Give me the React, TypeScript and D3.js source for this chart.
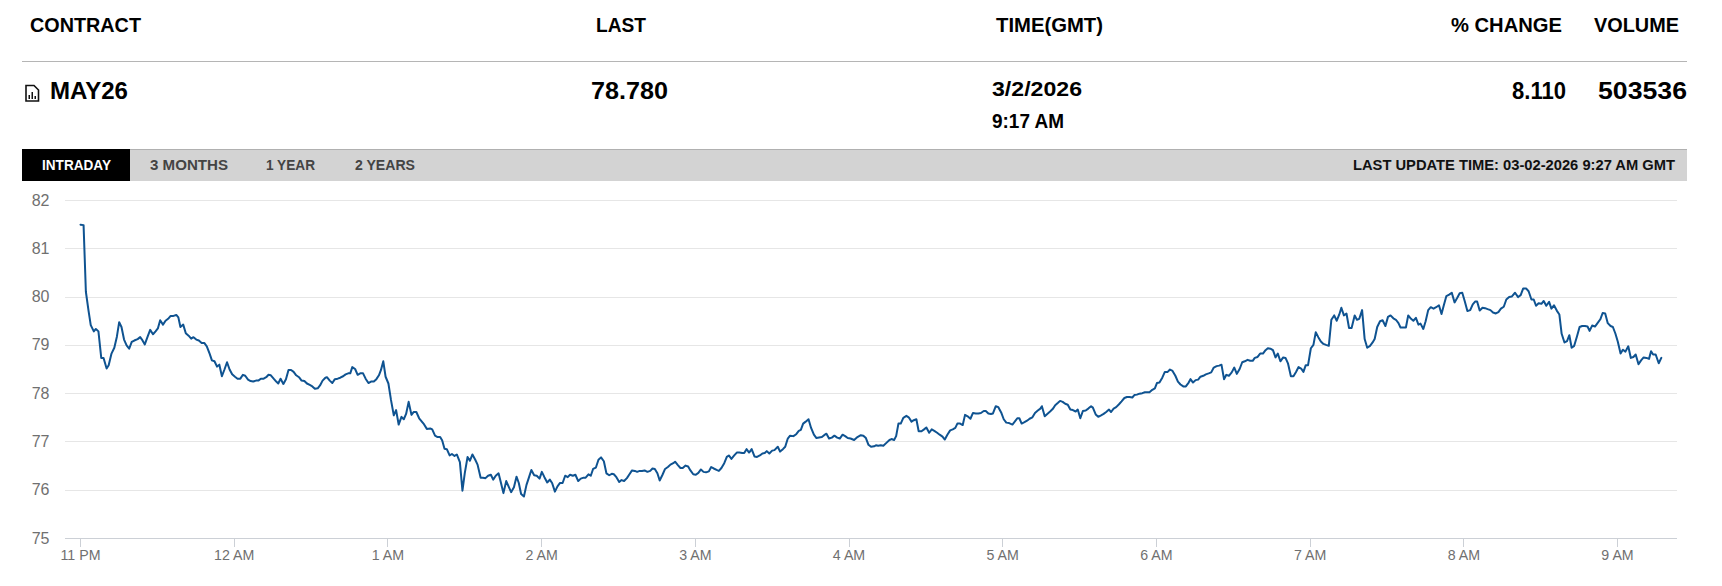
import React from "react";
import * as d3 from "d3";

const yTickValues = [75, 76, 77, 78, 79, 80, 81, 82];
const xTickMinutes = [0, 60, 120, 180, 240, 300, 360, 420, 480, 540, 600];
const xTickLabels = ["11 PM", "12 AM", "1 AM", "2 AM", "3 AM", "4 AM", "5 AM", "6 AM", "7 AM", "8 AM", "9 AM"];
const tabs = ["INTRADAY", "3 MONTHS", "1 YEAR", "2 YEARS"];

// minutes after 11 PM
const minutes = [
0,1.2,2.1,3.1,4,5.2,6,7,8.1,9,10.2,11,12.1,13.2,14.2,15.1,16,17,18,19,20,21,22.3,23.3,24,25.1,26.2,27.2,28.3,29.3,30.2,31.1,32.2,33.2,34.2,35.2,36.3,37.4,38.2,39,40.1,41.1,42.2,43.2,44.1,45.2,46.2,47.3,48.3,49.3,50.4,51.3,52.3,53.3,54.2,55.2,56.2,57.2,58.2,59.2,
60.3,61.3,62.4,63.4,64.3,65.4,66.4,67.4,68.5,69.4,70.4,71.5,72.5,73.4,74.3,75.4,76.4,77.2,78.1,79.2,80.2,81.2,82.2,83.2,84.2,85.3,86.3,87.4,88.4,89.5,90.5,91.5,92.6,93.5,94.5,95.6,96.2,97.3,98.3,99.3,100.4,101.4,102.5,103.5,104.5,105.3,106.1,107.2,108.2,109.2,110.3,111.3,112.4,113.4,114.5,115.5,116.5,117.3,118.2,119.1,
120.2,121.2,122.3,123.2,124.2,125.3,126.2,127.1,128.1,129.2,130.1,131.1,132.2,133.9,135.2,136.5,137.3,138.4,139.4,140.4,141.2,142.1,143,144.1,145,146,146.9,148.1,149.1,150,151.1,152,153,154.1,155,156.2,157.1,158.1,159.1,160.2,161.1,162.1,163.2,164.1,165.1,166.2,167.1,168.1,169.2,170.2,171.1,172,173.1,174.1,175.1,176,177.1,178.1,179.2,
180.1,181.1,182.2,183.2,184.1,185.2,186.2,187.2,188.2,189.2,190.2,191.1,192.2,193.2,194.3,195.3,196.4,197.2,198.3,199.2,200.1,201.2,202.2,203.2,204.3,205.3,206.4,207.4,208.2,209.2,210.3,211.2,212.2,213.3,214.3,215.3,216.4,217.3,218.3,219.2,220.2,221.3,222.4,223.3,224.2,225.2,226.1,227.2,228.2,229.3,230.3,231.4,232.1,233.2,234.2,235.1,236.2,237.2,238.1,239.2,
240.2,241.2,242.2,243.2,244.2,245.3,246.2,247.2,248.3,249.2,250.2,251.3,252.3,253.1,254.1,255.2,256.2,257.2,258.3,259.1,260,261,262,263.1,264.1,265.2,266.2,267.1,267.9,268.9,270,270.9,272.2,273.1,274.2,275.1,276.1,277,278.3,279.4,280.4,281.2,282.1,283.1,284.2,285.2,286.3,287.3,288.3,289.4,290.3,291.2,292.2,293.3,294.3,295.4,
296.4,297.5,298.5,299.5,300.6,302,303.3,304.6,305.6,306.6,307.6,308.6,309.8,310.5,311.4,312.4,313.4,314.6,315.8,316.6,317.6,318.4,319.3,320.2,321.2,322.4,323.3,324.4,325.3,326.3,327.2,328.3,329.3,330.2,331.3,332.3,333.3,334.4,335.4,336.5,337.4,338.4,339.5,340.5,341.5,342.3,343.4,344.4,345.3,346.3,347.4,348.4,349.5,350.5,351.5,352.6,353.4,354.4,355.4,356.2,
357.3,358.3,359.4,360.4,361.4,362.5,363.8,364.7,365.7,366.5,367.4,368.5,369.5,370.5,371.6,372.6,373.7,374.7,375.3,376.4,377.4,378.5,379.5,380.5,381.6,382.4,383.4,384.4,385.4,386.4,387.4,388.5,389.3,390.3,391.3,392.4,393.4,394.5,395.2,396.3,397.3,398.4,399.4,400.4,401.5,402.3,403.3,404.3,405.4,406.4,407.5,408.5,409.5,410.6,411.4,412.4,413.4,414.5,415.5,416.6,
417.3,418.4,419.4,420.2,421.2,422.3,423.3,424.4,425.3,426.3,427.4,428.4,429.4,430.5,431.5,432.6,433.3,434.3,435.3,436.3,437.2,438.3,439.3,440.4,441.4,442.4,443.5,444.5,445.4,
446.4,447.3,448.3,449.4,450.4,451.4,452.5,453.5,454.5,455.6,456.6,457.6,458.4,459.5,460.5,461.6,462.6,463.5,464.5,465.5,466.5,467.4,468.4,469.5,470.4,471.4,472.5,473.5,474.5,475.5,476.5,477.4,478.3,479.2,
480.3,481.3,482.2,483.2,484.2,485.2,486.2,487.3,488.3,489.4,490.4,491.4,492.2,493.2,494.2,495.2,496.2,497.4,498.3,499.2,500.3,501.3,502.3,503.4,504.4,505.2,506.2,507.3,508.3,509.4,510.4,511.4,512.5,513.5,514.5,515.3,516.4,517.4,518.3,519.4,520.3,521.3,522.3,523.1,524.2,525.1,526.1,527.1,528.2,529.2,530.3,531.3,532.2,533.2,534.3,535.3,536.4,537.4,538.4,539.4,
540.4,541.4,542.5,543.5,544.5,545.2,546.2,547.3,548.3,549.3,550.4,551.4,552.5,553.5,554.5,555.6,556.6,557.7,558.7,560,561.2,562.2,563.2,564.3,565.3,566.4,567.3,568.2,569.2,570.3,571.2,572.2,573.3,574.2,575.2,576.3,577.3,578.2,579.3,580.3,581.2,582.1,583.1,584.2,585.2,586.2,587.3,588.3,589.1,590.1,591.2,592.2,593.3,594.2,595.2,596.2,597.3,598.2,599.2,
600.1,601.2,602.1,603.1,604.2,605.2,606.2,607.1,608.2,609.2,610.2,611.3,612.3,613.1,613.9,614.9,616.1,617.1
];

const prices = [
81.5,81.49,80.11,79.73,79.42,79.29,79.34,79.29,78.74,78.74,78.52,78.59,78.83,78.95,79.18,79.48,79.38,79.12,79,78.93,79.07,79.1,79.13,79.17,79.12,79.02,79.18,79.32,79.23,79.29,79.35,79.52,79.43,79.51,79.55,79.61,79.61,79.63,79.58,79.38,79.43,79.25,79.2,79.14,79.17,79.12,79.1,79.05,79.05,78.98,78.83,78.69,78.67,78.56,78.6,78.36,78.5,78.65,78.5,78.4,
78.35,78.31,78.31,78.39,78.37,78.29,78.26,78.25,78.27,78.27,78.31,78.31,78.34,78.39,78.38,78.31,78.25,78.21,78.31,78.2,78.3,78.49,78.49,78.45,78.38,78.34,78.27,78.26,78.21,78.18,78.15,78.1,78.11,78.17,78.27,78.33,78.34,78.27,78.22,78.3,78.31,78.33,78.36,78.4,78.42,78.42,78.55,78.51,78.39,78.42,78.42,78.31,78.22,78.25,78.25,78.3,78.38,78.49,78.67,78.35,
78.21,77.87,77.55,77.66,77.36,77.52,77.47,77.58,77.83,77.56,77.62,77.62,77.49,77.38,77.27,77.28,77.26,77.13,77.1,77.1,77.03,76.86,76.85,76.72,76.75,76.71,76.74,76.58,75.99,76.35,76.69,76.61,76.74,76.63,76.53,76.26,76.26,76.25,76.3,76.32,76.22,76.3,76.35,76.16,75.94,76.19,76.08,75.96,76.06,76.28,76.15,75.92,75.87,76.11,76.27,76.42,76.31,76.3,76.24,
76.38,76.27,76.16,76.22,76.15,75.97,76.08,76.15,76.15,76.3,76.27,76.32,76.3,76.32,76.19,76.24,76.26,76.26,76.33,76.3,76.44,76.47,76.63,76.68,76.6,76.35,76.31,76.34,76.33,76.27,76.17,76.21,76.19,76.25,76.33,76.41,76.4,76.38,76.4,76.4,76.41,76.38,76.4,76.45,76.44,76.35,76.2,76.32,76.44,76.48,76.53,76.56,76.59,76.52,76.46,76.46,76.51,76.49,76.41,76.33,
76.32,76.36,76.43,76.38,76.37,76.39,76.48,76.45,76.42,76.4,76.46,76.56,76.69,76.72,76.65,76.72,76.78,76.78,76.77,76.77,76.85,76.78,76.85,76.7,76.69,76.72,76.76,76.77,76.81,76.76,76.82,76.83,76.9,76.8,76.85,76.9,77.07,77.13,77.12,77.16,77.23,77.25,77.38,77.42,77.47,77.29,77.15,77.08,77.09,77.1,77.14,77.17,77.07,77.09,77.13,77.09,
77.07,77.15,77.12,77.08,77.07,77.04,77.1,77.14,77.13,77.08,76.94,76.9,76.91,76.93,76.92,76.93,76.92,76.98,77.04,77.06,77.04,77.12,77.38,77.38,77.5,77.54,77.51,77.42,77.45,77.47,77.22,77.22,77.26,77.3,77.19,77.26,77.23,77.19,77.15,77.11,77.05,77.15,77.24,77.26,77.29,77.38,77.38,77.35,77.56,77.53,77.48,77.6,77.59,77.59,77.6,77.64,77.64,77.59,77.58,77.59,
77.74,77.72,77.61,77.47,77.4,77.39,77.36,77.42,77.49,77.49,77.38,77.41,77.44,77.48,77.51,77.6,77.65,77.69,77.74,77.53,77.58,77.63,77.68,77.76,77.81,77.85,77.83,77.79,77.77,77.67,77.66,77.63,77.67,77.49,77.64,77.65,77.69,77.74,77.71,77.57,77.52,77.55,77.58,77.62,77.67,77.62,77.69,77.72,77.78,77.84,77.91,77.93,77.93,77.92,77.97,77.98,78,78.01,78.03,78.03,
78.03,78.08,78.11,78.22,78.23,78.33,78.45,78.45,78.5,78.47,78.37,78.25,78.19,78.15,78.15,78.23,78.3,78.23,78.28,78.29,78.35,78.37,78.4,78.42,78.44,78.54,78.57,78.58,78.6,
78.3,78.39,78.37,78.44,78.54,78.41,78.51,78.65,78.67,78.7,78.68,78.68,78.74,78.76,78.83,78.83,78.9,78.94,78.93,78.9,78.75,78.83,78.67,78.75,78.74,78.62,78.36,78.36,78.45,78.55,78.52,78.45,78.59,78.59,
78.94,79.01,79.27,79.17,79.08,79.03,79.01,78.99,79.53,79.62,79.51,79.64,79.78,79.62,79.66,79.36,79.36,79.62,79.53,79.55,79.73,79.13,78.95,78.99,79.06,79.13,79.38,79.5,79.52,79.4,79.59,79.62,79.56,79.53,79.46,79.37,79.37,79.37,79.62,79.55,79.51,79.57,79.43,79.45,79.34,79.5,79.73,79.79,79.76,79.79,79.83,79.65,79.83,80.02,80.05,80.09,79.89,79.98,80.08,80.09,
79.91,79.71,79.73,79.85,79.91,79.91,79.72,79.78,79.77,79.75,79.73,79.68,79.66,79.69,79.76,79.8,79.95,80,80.01,80.09,80,80.04,80.18,80.18,80.12,79.95,79.95,79.82,79.87,79.86,79.92,79.82,79.9,79.76,79.83,79.72,79.64,79.24,79.06,79.09,79.21,78.95,78.99,79.19,79.38,79.4,79.4,79.39,79.3,79.41,79.39,79.46,79.54,79.67,79.66,79.46,79.4,79.38,79.24,
79.08,78.83,78.91,78.87,78.98,78.74,78.76,78.81,78.61,78.69,78.75,78.74,78.72,78.88,78.81,78.81,78.63,78.74
];

const W = 1722;
const H = 586;
const x = d3.scaleLinear().domain([0, 600]).range([80.5, 1617.5]);
const y = d3.scaleLinear().domain([75, 82]).range([538.5, 200.5]);
const series = minutes.slice(0, prices.length).map((m, i) => [m, prices[i]] as [number, number]);
const linePath = d3.line<[number, number]>().x(d => x(d[0])).y(d => y(d[1]))(series) || "";

const FONT = "'Liberation Sans', Arial, sans-serif";
const tabX = [42, 150, 266, 355];
const tabW = [69, 78, 49, 60];
const snap = (v: number) => Math.round(v - 0.5) + 0.5;

function T(p: { x: number; y: number; w: number; size: number; fill?: string; children: string }) {
  return (
    <text x={p.x} y={p.y} fontSize={p.size} fontWeight={700} fill={p.fill || "#000"} textLength={p.w} lengthAdjust="spacingAndGlyphs">
      {p.children}
    </text>
  );
}

export default function App() {
  return (
    <svg width={W} height={H} viewBox={`0 0 ${W} ${H}`} style={{ position: "fixed", left: 0, top: 0, display: "block", background: "#fff" }} fontFamily={FONT}>
      <T x={30} y={32} w={111} size={19.5}>CONTRACT</T>
      <T x={596} y={32} w={50} size={19.5}>LAST</T>
      <T x={996} y={32} w={107} size={19.5}>TIME(GMT)</T>
      <T x={1451} y={32} w={111} size={19.5}>% CHANGE</T>
      <T x={1594} y={32} w={85} size={19.5}>VOLUME</T>
      <line x1={22} x2={1687} y1={61.5} y2={61.5} stroke="#b5b5b5" strokeWidth={1} />

      <g fill="none" stroke="#111" strokeWidth={1.6}>
        <path d="M26 85.5 h8 l4.5 4.5 v11 h-12.5 z" />
      </g>
      <g fill="#111">
        <rect x={28.5} y={95} width={1.5} height={4} />
        <rect x={31.5} y={92} width={1.5} height={7} />
        <rect x={34.5} y={96} width={1.5} height={3} />
      </g>
      <T x={50} y={99} w={78} size={23}>MAY26</T>
      <T x={591} y={99} w={77} size={23}>78.780</T>
      <T x={1512} y={99} w={54} size={23}>8.110</T>
      <T x={1598} y={99} w={89} size={23}>503536</T>
      <T x={992} y={96} w={90} size={19.5}>3/2/2026</T>
      <T x={992} y={128} w={72} size={19.5}>9:17 AM</T>

      <rect x={22} y={149} width={1665} height={32} fill="#d3d3d3" />
      <line x1={22} x2={1687} y1={149.5} y2={149.5} stroke="#b0b0b0" />
      <rect x={22} y={149} width={108} height={32} fill="#000" />
      {tabs.map((t, i) => (
        <T key={t} x={tabX[i]} y={170} w={tabW[i]} size={14} fill={i === 0 ? "#fff" : "#444"}>{t}</T>
      ))}
      <T x={1353} y={170} w={322} size={14} fill="#111">LAST UPDATE TIME: 03-02-2026 9:27 AM GMT</T>

      {yTickValues.filter(v => v !== 75).map(v => (
        <line key={v} x1={65} x2={1677} y1={snap(y(v))} y2={snap(y(v))} stroke="#e6e6e6" />
      ))}
      <line x1={65} x2={1677} y1={snap(y(75))} y2={snap(y(75))} stroke="#ccd0d6" />
      {yTickValues.map(v => (
        <text key={v} x={49.5} y={y(v) + 5} textAnchor="end" fontSize={16} fill="#707070">{v}</text>
      ))}
      {xTickMinutes.map((m, i) => (
        <g key={m}>
          <line x1={snap(x(m))} x2={snap(x(m))} y1={539} y2={547} stroke="#ccd0d6" />
          <text x={x(m)} y={560} textAnchor="middle" fontSize={14.2} fill="#707070">{xTickLabels[i]}</text>
        </g>
      ))}
      <path d={linePath} fill="none" stroke="#0f5391" strokeWidth={2} strokeLinejoin="round" strokeLinecap="round" />
    </svg>
  );
}
